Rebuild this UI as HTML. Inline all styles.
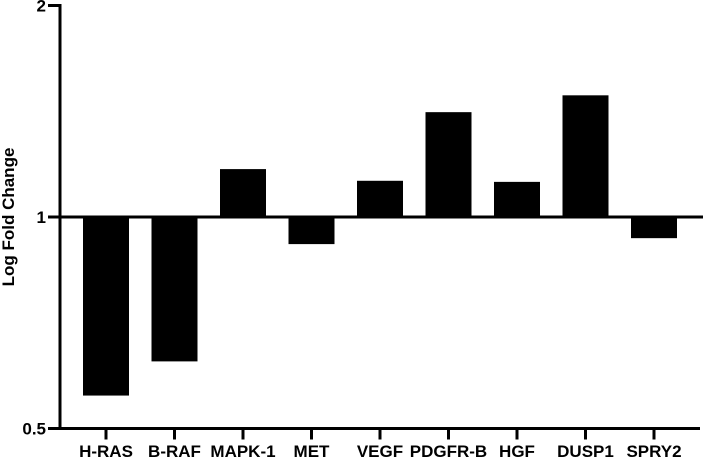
<!DOCTYPE html>
<html><head><meta charset="utf-8"><style>
body{margin:0;background:#fff;}
svg{display:block;font-family:"Liberation Sans",Arial,sans-serif;font-weight:bold;}
</style></head><body>
<svg id="chart" width="703" height="461">
<text transform="translate(14,217) rotate(-90)" text-anchor="middle" font-size="17">Log Fold Change</text>
</svg>
<script>
const categories=["H-RAS","B-RAF","MAPK-1","MET","VEGF","PDGFR-B","HGF","DUSP1","SPRY2"];
const values=[0.557,0.623,1.17,0.915,1.126,1.41,1.122,1.49,0.933];
const yTicks=[0.5,1,2];
const yTickLabels=["0.5","1","2"];
const svg=document.getElementById('chart');
const NS='http://www.w3.org/2000/svg';
const axisX=60,y1px=217,perDouble=211.5;
function yScale(v){return y1px-Math.log2(v)*perDouble;}
const x0=106,step=68.5,bw=46;
function xScale(i){return x0+i*step;}
function mk(t,a){const e=document.createElementNS(NS,t);for(const k in a)e.setAttribute(k,a[k]);svg.appendChild(e);return e;}
values.forEach((v,i)=>{
  const y=yScale(v),top=Math.min(y,y1px),h=Math.abs(y-y1px);
  const r=mk('rect',{x:xScale(i)-bw/2,y:top,width:bw,height:h,fill:'#000'});
  
  
  const t=mk('line',{x1:xScale(i),x2:xScale(i),y1:yScale(0.5),y2:yScale(0.5)+11,stroke:'#000','stroke-width':3});
  
  
  const l=mk('text',{x:xScale(i),y:457,'text-anchor':'middle','font-size':17});
  l.textContent=categories[i];
  
  
});
const ref=mk('line',{x1:axisX,x2:703,y1:y1px,y2:y1px,stroke:'#000','stroke-width':3});


const ya=mk('line',{x1:axisX,x2:axisX,y1:yScale(2)-1.5,y2:yScale(0.5)+1.5,stroke:'#000','stroke-width':3});


const xa=mk('line',{x1:axisX,x2:700,y1:yScale(0.5),y2:yScale(0.5),stroke:'#000','stroke-width':3});


yTicks.forEach((v,i)=>{
  const tk=mk('line',{x1:axisX-12,x2:axisX,y1:yScale(v),y2:yScale(v),stroke:'#000','stroke-width':3});
  
  
  const t=mk('text',{x:axisX-14,y:yScale(v)+6,'text-anchor':'end','font-size':17});
  t.textContent=yTickLabels[i];
  
  
});
</script>
</body></html>
